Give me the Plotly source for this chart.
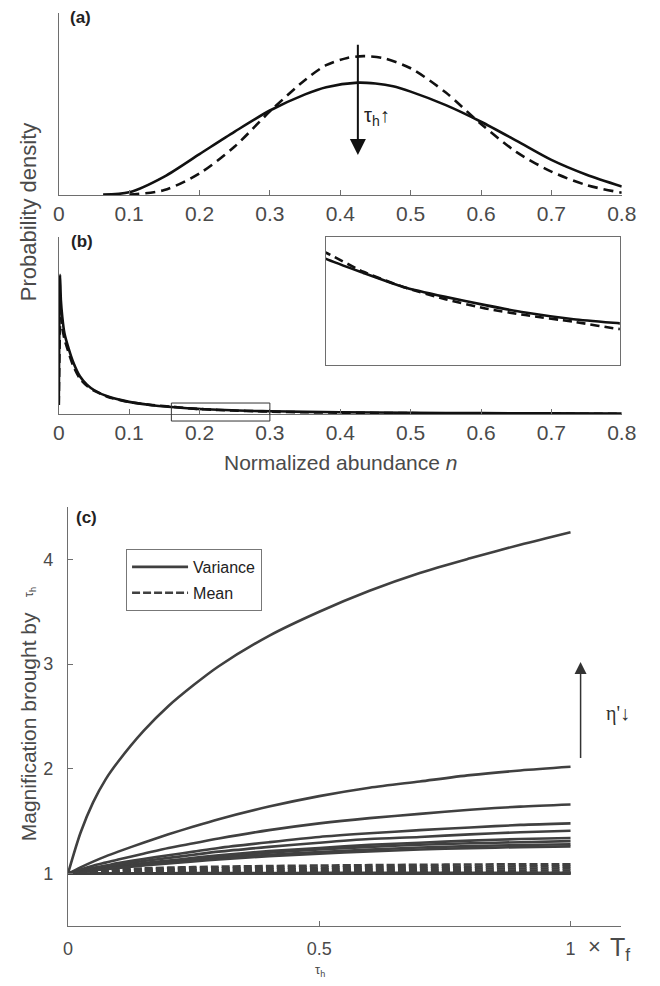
import plotly.graph_objects as go

# ---------------- panel (a): density of normalized abundance ----------------
a_n_solid = [0.063, 0.1, 0.15, 0.2, 0.25, 0.3, 0.35, 0.38, 0.425, 0.45, 0.475, 0.5,
             0.55, 0.6, 0.65, 0.7, 0.75, 0.8]
a_p_solid = [0.01, 0.06, 0.41, 0.91, 1.41, 1.88, 2.24, 2.40, 2.50, 2.48, 2.42, 2.30,
             2.00, 1.63, 1.21, 0.78, 0.45, 0.19]
a_n_dash = [0.1, 0.15, 0.2, 0.25, 0.3, 0.35, 0.38, 0.41, 0.433, 0.46, 0.5, 0.55,
            0.6, 0.65, 0.7, 0.75, 0.8]
a_p_dash = [0.01, 0.11, 0.48, 1.08, 1.86, 2.56, 2.89, 3.05, 3.09, 3.05, 2.82, 2.28,
            1.58, 0.96, 0.52, 0.22, 0.05]
a_ticks = [0, 0.1, 0.2, 0.3, 0.4, 0.5, 0.6, 0.7, 0.8]
a_ticktext = ["0", "0.1", "0.2", "0.3", "0.4", "0.5", "0.6", "0.7", "0.8"]

# ---------------- panel (b): heavy-tailed density ----------------
b_n = [0.0, 0.001, 0.0018, 0.003, 0.005, 0.008, 0.013, 0.02, 0.03, 0.04, 0.05, 0.07,
       0.1, 0.13, 0.16, 0.178, 0.197, 0.217, 0.236, 0.255, 0.278, 0.3, 0.35, 0.4,
       0.5, 0.6, 0.7, 0.8]
b_p_solid = [1.5, 18.0, 23.2, 19.0, 16.2, 13.5, 11.3, 8.8, 6.3, 4.9, 4.0, 2.9,
             2.02, 1.5, 1.163, 1.007, 0.854, 0.745, 0.655, 0.574, 0.501, 0.455, 0.36, 0.29,
             0.20, 0.14, 0.10, 0.07]
b_p_dash = [1.5, 10.0, 14.5, 16.0, 14.5, 12.5, 10.6, 8.2, 5.9, 4.7, 3.9, 2.85,
            2.0, 1.52, 1.23, 1.02, 0.854, 0.72, 0.619, 0.546, 0.473, 0.393, 0.29, 0.22,
            0.14, 0.09, 0.06, 0.04]
zoom_n = [0.16, 0.30]          # n-window shown in the inset
zoom_p = [-1.17, 1.83]         # outline of the marked window
inset_p = [0.0, 1.4]
b_range = [0, 29.5]

# ---------------- panel (c): magnification vs tau_h ----------------
tau = [0.0, 0.025, 0.05, 0.075, 0.1, 0.15, 0.2, 0.25, 0.3, 0.4, 0.5, 0.6, 0.7, 0.8, 0.9, 1.0]
variance = [
    [1.0, 1.39, 1.68, 1.90, 2.07, 2.36, 2.60, 2.80, 2.98, 3.27, 3.50, 3.70, 3.87, 4.01, 4.14,
     4.26],
    [1.0, 1.06, 1.115, 1.165, 1.21, 1.295, 1.375, 1.45, 1.52, 1.64, 1.74, 1.82, 1.88, 1.94,
     1.985, 2.02],
    [1.0, 1.04, 1.075, 1.105, 1.135, 1.19, 1.245, 1.29, 1.335, 1.415, 1.48, 1.53, 1.57, 1.61,
     1.64, 1.66],
    [1.0, 1.03, 1.055, 1.077, 1.10, 1.14, 1.175, 1.21, 1.245, 1.30, 1.35, 1.385, 1.415, 1.44,
     1.465, 1.48],
    [1.0, 1.025, 1.045, 1.065, 1.085, 1.12, 1.15, 1.18, 1.21, 1.255, 1.295, 1.33, 1.35, 1.375,
     1.395, 1.41],
    [1.0, 1.02, 1.04, 1.055, 1.07, 1.10, 1.125, 1.15, 1.175, 1.215, 1.245, 1.275, 1.295, 1.315,
     1.33, 1.34],
    [1.0, 1.02, 1.035, 1.05, 1.065, 1.09, 1.115, 1.14, 1.16, 1.20, 1.23, 1.255, 1.275, 1.29,
     1.30, 1.31],
    [1.0, 1.017, 1.032, 1.046, 1.06, 1.083, 1.105, 1.126, 1.146, 1.18, 1.207, 1.23, 1.25, 1.263,
     1.273, 1.28],
    [1.0, 1.016, 1.03, 1.043, 1.055, 1.077, 1.098, 1.117, 1.135, 1.166, 1.19, 1.212, 1.23, 1.243,
     1.253, 1.26],
    [1.0, 1.0, 1.0, 1.0, 1.0, 1.0, 1.0, 1.0, 1.0, 1.0, 1.0, 1.0, 1.0, 1.0, 1.0, 1.0],
    [1.0, 1.001, 1.002, 1.002, 1.003, 1.004, 1.004, 1.005, 1.005, 1.006, 1.007, 1.007, 1.008,
     1.008, 1.009, 1.009],
]
mean = [
    [1.0, 1.016, 1.027, 1.035, 1.041, 1.05, 1.057, 1.062, 1.066, 1.072, 1.077, 1.081, 1.084,
     1.087, 1.089, 1.09],
    [1.0, 1.012, 1.02, 1.026, 1.031, 1.038, 1.043, 1.047, 1.05, 1.055, 1.059, 1.062, 1.065,
     1.067, 1.069, 1.07],
    [1.0, 1.008, 1.014, 1.018, 1.022, 1.027, 1.03, 1.033, 1.035, 1.039, 1.042, 1.044, 1.046,
     1.048, 1.049, 1.05],
    [1.0, 1.005, 1.008, 1.011, 1.013, 1.016, 1.018, 1.02, 1.021, 1.023, 1.025, 1.026, 1.027,
     1.028, 1.029, 1.03],
    [1.0, 1.002, 1.003, 1.004, 1.004, 1.005, 1.006, 1.006, 1.007, 1.008, 1.008, 1.009, 1.009,
     1.01, 1.01, 1.01],
    [1.0, 1.0, 1.0, 1.0, 1.0, 1.0, 1.0, 1.0, 1.0, 1.0, 1.0, 1.0, 1.0, 1.0, 1.0, 1.0],
]
c_xticks = [0, 0.5, 1]
c_xticktext = ["0", "0.5", "1"]
c_yticks = [1, 2, 3, 4]

FONT = "Liberation Sans, Arial, Helvetica, sans-serif"
SERIF = "Liberation Serif, Times New Roman, serif"
AX = "#6e6e6e"
TXT = "#4a4a4a"
INK = "#111111"
CLINE = "#404040"

W, H = 660, 986


def px(xp):
    return xp / W


def py(yp):
    return 1 - yp / H


fig = go.Figure()

# (a)
fig.add_trace(go.Scatter(x=a_n_solid, y=a_p_solid, mode="lines", xaxis="x", yaxis="y",
                         line=dict(color=INK, width=2.6, shape="spline", smoothing=0.8),
                         showlegend=False))
fig.add_trace(go.Scatter(x=a_n_dash, y=a_p_dash, mode="lines", xaxis="x", yaxis="y",
                         line=dict(color=INK, width=2.6, dash="10px,6px", shape="spline",
                                   smoothing=0.8),
                         showlegend=False))

# (b) main panel and inset share the same curves
for xa, ya in (("x2", "y2"), ("x3", "y3")):
    fig.add_trace(go.Scatter(x=b_n, y=b_p_dash, mode="lines", xaxis=xa, yaxis=ya,
                             line=dict(color=INK, width=2.6, dash="9px,5px", shape="spline",
                                       smoothing=0.6),
                             showlegend=False))
    fig.add_trace(go.Scatter(x=b_n, y=b_p_solid, mode="lines", xaxis=xa, yaxis=ya,
                             line=dict(color=INK, width=2.6, shape="spline", smoothing=0.6),
                             showlegend=False))

# (c)
for i, v in enumerate(variance):
    fig.add_trace(go.Scatter(x=tau, y=v, mode="lines", xaxis="x4", yaxis="y4",
                             name="Variance", legendgroup="var", showlegend=(i == 0),
                             line=dict(color=CLINE, width=2.6, shape="spline", smoothing=0.8)))
for i, m in enumerate(mean):
    fig.add_trace(go.Scatter(x=tau, y=m, mode="lines", xaxis="x4", yaxis="y4",
                             name="Mean", legendgroup="mean", showlegend=(i == 0),
                             line=dict(color=CLINE, width=2.6, dash="8px,3px",
                                       shape="spline", smoothing=0.8)))

# axis layout
dom_x_ab = [px(54.5), px(636)]
base_x = dict(showgrid=False, zeroline=False, showline=True, linecolor=AX, linewidth=1,
              ticks="inside", ticklen=5, tickcolor=AX, tickwidth=1,
              tickfont=dict(family=FONT, size=21, color=TXT))
base_y = dict(showgrid=False, zeroline=False, showline=True, linecolor=AX, linewidth=1,
              ticks="", showticklabels=False)

fig.update_layout(
    width=W, height=H, margin=dict(l=0, r=0, t=0, b=0),
    paper_bgcolor="white", plot_bgcolor="white",
    font=dict(family=FONT, color=TXT),
    xaxis=dict(base_x, domain=dom_x_ab, anchor="y", range=[0, 0.8],
               tickvals=a_ticks, ticktext=a_ticktext),
    yaxis=dict(base_y, domain=[py(195), py(13)], anchor="x", range=[0, 4.05]),
    xaxis2=dict(base_x, domain=dom_x_ab, anchor="y2", range=[0, 0.8],
                tickvals=a_ticks, ticktext=a_ticktext),
    yaxis2=dict(base_y, domain=[py(414), py(237)], anchor="x2", range=b_range),
    xaxis3=dict(domain=[px(330), px(634)], anchor="y3", range=zoom_n, showgrid=False,
                zeroline=False, showline=True, mirror=True, linecolor=AX, linewidth=1,
                ticks="", showticklabels=False),
    yaxis3=dict(domain=[py(365), py(237)], anchor="x3", range=inset_p, showgrid=False,
                zeroline=False, showline=True, mirror=True, linecolor=AX, linewidth=1,
                ticks="", showticklabels=False),
    xaxis4=dict(base_x, domain=[px(64), px(635)], anchor="y4", range=[0, 1.1],
                tickvals=c_xticks, ticktext=c_xticktext,
                tickfont=dict(family=FONT, size=18, color=TXT), ticklabelstandoff=6),
    yaxis4=dict(showgrid=False, zeroline=False, showline=True, linecolor=AX, linewidth=1,
                domain=[py(926), py(507)], anchor="x4", range=[0.5, 4.5],
                tickvals=c_yticks, ticks="inside", ticklen=5, tickcolor=AX,
                tickfont=dict(family=FONT, size=18, color=TXT), ticklabelstandoff=10),
    legend=dict(x=px(124), y=py(549), xanchor="left", yanchor="top",
                bordercolor="#777777", borderwidth=1, bgcolor="white",
                font=dict(family=FONT, size=16, color="#222222"),
                tracegroupgap=2, itemwidth=56),
)

# window marker in (b), expressed through the axis ranges
x2r = [0, 0.8]
fig.add_shape(type="rect", xref="x2 domain", yref="y2 domain",
              x0=(zoom_n[0] - x2r[0]) / (x2r[1] - x2r[0]),
              x1=(zoom_n[1] - x2r[0]) / (x2r[1] - x2r[0]),
              y0=(zoom_p[0] - b_range[0]) / (b_range[1] - b_range[0]),
              y1=(zoom_p[1] - b_range[0]) / (b_range[1] - b_range[0]),
              line=dict(color="#333333", width=1))


def label(text, xp, yp, size, color=TXT, family=FONT, angle=0):
    return dict(text=text, x=px(xp), y=py(yp), xref="paper", yref="paper",
                xanchor="center", yanchor="middle", textangle=angle, showarrow=False,
                font=dict(family=family, size=size, color=color))


ann = []
# panel letters
for lab, xx, yy in (("(a)", 77, 18), ("(b)", 78, 242), ("(c)", 83, 517)):
    ann.append(label("<b>%s</b>" % lab, xx, yy, 17, "#222222"))
# shared y title for (a)/(b)
ann.append(label("Probability density", 23, 212, 22, angle=-90))
# x title for (b)
ann.append(label("Normalized abundance <i>n</i>", 346, 462, 21))
# arrow in (a)
ann.append(dict(x=0.425, y=0.89, ax=0.425, ay=3.375, xref="x", yref="y", axref="x", ayref="y",
                showarrow=True, arrowhead=2, arrowsize=1.6, arrowwidth=2, arrowcolor=INK,
                text=""))
ann.append(dict(text="τ<sub>h</sub>↑", x=0.431, y=1.75, xref="x", yref="y",
                xanchor="left", yanchor="middle", showarrow=False,
                font=dict(family=FONT, size=20, color="#222222")))
# (c) titles and labels
ann.append(label("Magnification brought by", 23, 727, 21, angle=-90))
ann.append(label("τ<sub>h</sub>", 24, 592, 13, angle=-90))
ann.append(label("τ<sub>h</sub>", 324, 970, 13))
ann.append(dict(text="×", x=1, y=py(946), xref="x4", yref="paper", xanchor="left",
                yanchor="middle", xshift=15, showarrow=False,
                font=dict(family=FONT, size=22, color=TXT)))
ann.append(dict(text="T<sub>f</sub>", x=1, y=py(949), xref="x4", yref="paper",
                xanchor="left", yanchor="middle", xshift=37, showarrow=False,
                font=dict(family=FONT, size=25, color=TXT)))
ann.append(dict(x=1.02, y=3.02, ax=1.02, ay=2.09, xref="x4", yref="y4", axref="x4",
                ayref="y4", showarrow=True, arrowhead=2, arrowsize=1.6, arrowwidth=1.5,
                arrowcolor="#333333", text=""))
ann.append(dict(text="η'↓", x=1.095, y=2.53, xref="x4", yref="y4", showarrow=False,
                xanchor="center", yanchor="middle",
                font=dict(family=SERIF, size=20, color="#333333")))
fig.update_layout(annotations=ann)

fig.write_html("out.html")
